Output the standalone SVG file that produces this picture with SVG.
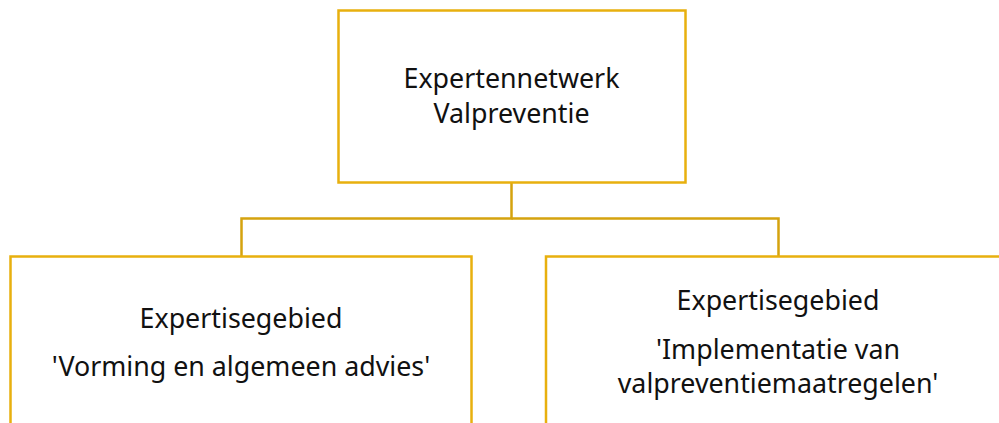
<svg xmlns="http://www.w3.org/2000/svg" width="999" height="423" viewBox="0 0 999 423">
<style>
.box{fill:#FFFFFF;stroke:#E8B00E;stroke-width:2.5}
.conn{fill:none;stroke:#D5A30E;stroke-width:2.5}
text{font-family:"Noto Sans","Open Sans","Liberation Sans",sans-serif;font-size:26.8px;fill:#111111;text-anchor:middle}
</style>
<rect width="999" height="423" fill="#FFFFFF"/>
<g id="connectors">
<path class="conn" d="M511.5 183 V218.5 H241.5 V256"/>
<path class="conn" d="M511.5 218.5 H778.5 V256"/>
</g>
<g id="root">
<rect class="box" x="338.5" y="10.5" width="347" height="172"/>
<text x="511.5" y="88">Expertennetwerk</text>
<text x="511.5" y="123">Valpreventie</text>
</g>
<g id="left">
<rect class="box" x="10.5" y="256.5" width="461" height="180"/>
<text x="241" y="328">Expertisegebied</text>
<text x="241" y="376">'Vorming en algemeen advies'</text>
</g>
<g id="right">
<rect class="box" x="546" y="256.5" width="470" height="180"/>
<text x="778" y="310">Expertisegebied</text>
<text x="778" y="359">'Implementatie van</text>
<text x="778" y="393">valpreventiemaatregelen'</text>
</g>
</svg>
